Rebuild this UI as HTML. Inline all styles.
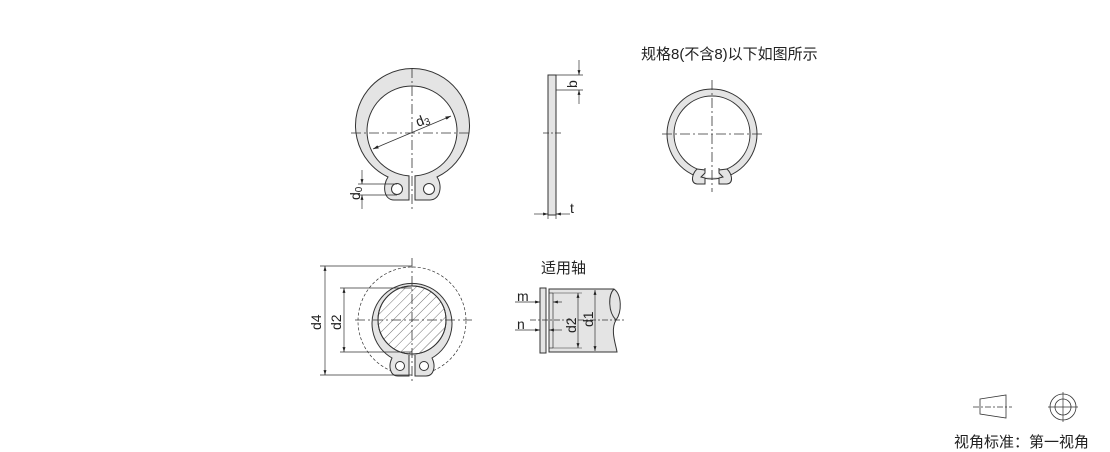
<!DOCTYPE html>
<html><head><meta charset="utf-8"><style>
html,body{margin:0;padding:0;background:#fff;width:1110px;height:452px;overflow:hidden}
svg{display:block}
text{font-family:"Liberation Sans","Noto Sans CJK SC",sans-serif;fill:#222}
</style></head><body>
<svg width="1110" height="452" viewBox="0 0 1110 452" xmlns="http://www.w3.org/2000/svg">
<defs>
<marker id="a" viewBox="0 0 10 10" refX="10" refY="5" markerWidth="7" markerHeight="7" orient="auto-start-reverse"><path d="M0,2 L10,5 L0,8z" fill="#222"/></marker>
<pattern id="h" width="7" height="7" patternUnits="userSpaceOnUse" patternTransform="rotate(45)"><line x1="0" y1="0" x2="0" y2="7" stroke="#333" stroke-width="0.7"/></pattern>
</defs>
<g stroke="#333" stroke-width="1" fill="none">
<!-- ring 1 -->
<path d="M409,188 L409,200 L394,200 C384,200 382,186 388,177 A57,57 0 1 1 437,177 C443,186 440,200 430,200 L415,200 L415,188" fill="#e4e4e4"/>
<circle cx="412" cy="131" r="45" fill="#fff"/>
<circle cx="397" cy="189" r="5.5" fill="#fff"/>
<circle cx="429" cy="189" r="5.5" fill="#fff"/>
<rect x="409.5" y="175" width="5" height="26" fill="#fff" stroke="none"/>
<path d="M409,176 L409,200 M415,176 L415,200"/>
<g stroke-dasharray="10,3,2,3" stroke-width="0.8"><line x1="351" y1="133" x2="472" y2="133"/><line x1="412" y1="68" x2="412" y2="210"/></g>
<line x1="373" y1="149" x2="451" y2="116" stroke-width="0.8" marker-start="url(#a)" marker-end="url(#a)"/>
<line x1="358" y1="184" x2="397" y2="184" stroke-width="0.7"/><line x1="358" y1="195" x2="397" y2="195" stroke-width="0.7"/>
<line x1="362" y1="170" x2="362" y2="184" stroke-width="0.7" marker-end="url(#a)"/><line x1="362" y1="209" x2="362" y2="195" stroke-width="0.7" marker-end="url(#a)"/>
<!-- side view -->
<rect x="548" y="75" width="8" height="140" fill="#e4e4e4"/>
<line x1="543" y1="133" x2="561" y2="133" stroke-dasharray="6,2,2,2" stroke-width="0.7"/>
<line x1="556" y1="75" x2="583" y2="75" stroke-width="0.7"/><line x1="556" y1="90" x2="583" y2="90" stroke-width="0.7"/>
<line x1="579" y1="60" x2="579" y2="75" stroke-width="0.7" marker-end="url(#a)"/><line x1="579" y1="104" x2="579" y2="90" stroke-width="0.7" marker-end="url(#a)"/>
<line x1="548" y1="215" x2="548" y2="219" stroke-width="0.7"/><line x1="556" y1="215" x2="556" y2="219" stroke-width="0.7"/>
<line x1="534" y1="214" x2="548" y2="214" stroke-width="0.7" marker-end="url(#a)"/><line x1="570" y1="214" x2="556" y2="214" stroke-width="0.7" marker-end="url(#a)"/>
<!-- ring 3 -->
<circle cx="712" cy="134" r="41.5" stroke="#e4e4e4" stroke-width="7"/>
<circle cx="712" cy="134" r="45"/>
<circle cx="712" cy="134" r="38" fill="#fff"/>
<path d="M697,169 C692,174 690,183 697,184 L705,184 L705,178 L701,177 L705,173 L705,170 Z" fill="#e4e4e4"/>
<path d="M727,169 C732,174 734,183 727,184 L719,184 L719,178 L723,177 L719,173 L719,170 Z" fill="#e4e4e4"/>
<rect x="705.5" y="165" width="13" height="12" fill="#fff" stroke="none"/>
<path d="M705,168 L705,173 M719,168 L719,173"/>
<g stroke-dasharray="10,3,2,3" stroke-width="0.8"><line x1="662" y1="134" x2="762" y2="134"/><line x1="712" y1="80" x2="712" y2="192"/></g>
<!-- lower ring -->
<circle cx="412" cy="321" r="54" stroke-dasharray="3,2" stroke-width="0.7"/>
<path d="M409,357 L409,376 L398,376 C390,376 388,366 392,358 A40,40 0 1 1 432,358 C436,366 434,376 426,376 L415,376 L415,357" fill="#e4e4e4"/>
<circle cx="412" cy="320" r="34" fill="#fff"/>
<circle cx="412" cy="320" r="34" fill="url(#h)"/>
<circle cx="400" cy="366" r="4.5" fill="#fff"/><circle cx="424" cy="366" r="4.5" fill="#fff"/>
<rect x="409.5" y="356" width="5" height="21" fill="#fff" stroke="none"/>
<path d="M409,355 L409,376 M415,355 L415,376"/>
<g stroke-dasharray="10,3,2,3" stroke-width="0.8"><line x1="355" y1="320" x2="472" y2="320"/><line x1="412" y1="258" x2="412" y2="382"/></g>
<line x1="320" y1="266" x2="412" y2="266" stroke-width="0.7"/><line x1="320" y1="375" x2="412" y2="375" stroke-width="0.7"/>
<line x1="325" y1="266" x2="325" y2="375" stroke-width="0.7" marker-start="url(#a)" marker-end="url(#a)"/>
<line x1="340" y1="288" x2="412" y2="288" stroke-width="0.7"/><line x1="340" y1="352" x2="412" y2="352" stroke-width="0.7"/>
<line x1="344" y1="288" x2="344" y2="352" stroke-width="0.7" marker-start="url(#a)" marker-end="url(#a)"/>
<!-- shaft -->
<path d="M549,289 L614,289 C622,295 622,312 616,320 C610,330 616,345 617,352 L549,352 Z" fill="#e4e4e4"/>
<path d="M614,289 C608,295 608,312 616,320"/>
<line x1="549" y1="293" x2="553" y2="293" stroke-width="0.7"/><line x1="549" y1="348" x2="553" y2="348" stroke-width="0.7"/><line x1="553" y1="293" x2="553" y2="348" stroke-width="0.7"/>
<rect x="540" y="288" width="6" height="65" fill="#e4e4e4"/>
<line x1="530" y1="320" x2="625" y2="320" stroke-dasharray="6,2,2,2" stroke-width="0.7"/>
<line x1="553" y1="293" x2="582" y2="293" stroke-width="0.6"/><line x1="553" y1="348" x2="582" y2="348" stroke-width="0.6"/>
<line x1="578" y1="293" x2="578" y2="348" stroke-width="0.7" marker-start="url(#a)" marker-end="url(#a)"/>
<line x1="595" y1="290" x2="595" y2="351" stroke-width="0.7" marker-start="url(#a)" marker-end="url(#a)"/>
<line x1="515" y1="302" x2="540" y2="302" stroke-width="0.7" marker-end="url(#a)"/><line x1="562" y1="302" x2="553" y2="302" stroke-width="0.7" marker-end="url(#a)"/>
<line x1="515" y1="330" x2="540" y2="330" stroke-width="0.7" marker-end="url(#a)"/><line x1="562" y1="330" x2="549" y2="330" stroke-width="0.7" marker-end="url(#a)"/>
<!-- view symbol -->
<path d="M980,399 L1006,395 L1006,418 L980,414 Z" stroke-width="0.8"/>
<line x1="973" y1="407" x2="1012" y2="407" stroke-dasharray="6,2,2,2" stroke-width="0.7"/>
<circle cx="1063" cy="407" r="13" stroke-width="0.8"/><circle cx="1063" cy="407" r="8" stroke-width="0.8"/>
<line x1="1048" y1="407" x2="1078" y2="407" stroke-width="0.7"/><line x1="1063" y1="392" x2="1063" y2="422" stroke-width="0.7"/>
</g>
<g font-size="14">
<text x="418" y="127" transform="rotate(-22 418 127)">d<tspan font-size="10" dy="2">3</tspan></text>
<text x="360" y="200" transform="rotate(-90 360 200)">d<tspan font-size="10" dy="2">0</tspan></text>
<text x="577" y="88" transform="rotate(-90 577 88)">b</text>
<text x="570" y="213">t</text>
<text x="641" y="59" font-size="15">规格8(不含8)以下如图所示</text>
<text x="541" y="273" font-size="15">适用轴</text>
<text x="321" y="330" transform="rotate(-90 321 330)">d4</text>
<text x="341" y="330" transform="rotate(-90 341 330)">d2</text>
<text x="517" y="301">m</text>
<text x="517" y="329">n</text>
<text x="576" y="333" transform="rotate(-90 576 333)">d2</text>
<text x="593" y="327" transform="rotate(-90 593 327)">d1</text>
<text x="954" y="447" font-size="15">视角标准：第一视角</text>
</g>
</svg>
</body></html>
